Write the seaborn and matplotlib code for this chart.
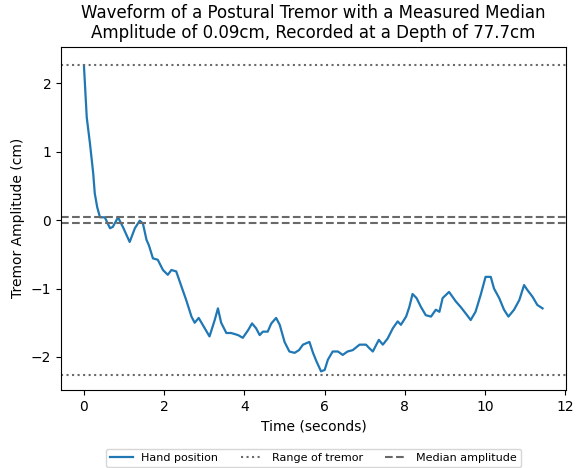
import numpy as np
import pandas as pd
import matplotlib
matplotlib.use("Agg")
import matplotlib.pyplot as plt
import seaborn as sns

# hand position trace (seconds, cm)
time_s = [0.00, 0.07, 0.15, 0.23, 0.27, 0.33, 0.40, 0.52, 0.65, 0.72, 0.85, 0.97,
          1.14, 1.27, 1.39, 1.47, 1.56, 1.62, 1.72, 1.84, 1.97, 2.09, 2.18, 2.30,
          2.43, 2.55, 2.68, 2.76, 2.86, 3.01, 3.13, 3.26, 3.34, 3.42, 3.55, 3.67,
          3.84, 3.96, 4.09, 4.19, 4.29, 4.38, 4.46, 4.58, 4.67, 4.79, 4.88, 5.00,
          5.12, 5.25, 5.36, 5.46, 5.62, 5.71, 5.80, 5.91, 6.00, 6.08, 6.20, 6.33,
          6.45, 6.57, 6.70, 6.87, 7.03, 7.11, 7.20, 7.35, 7.45, 7.57, 7.70, 7.82,
          7.90, 8.03, 8.11, 8.19, 8.29, 8.40, 8.52, 8.65, 8.77, 8.86, 8.94, 9.10,
          9.27, 9.39, 9.51, 9.64, 9.76, 9.89, 10.01, 10.14, 10.22, 10.35, 10.47,
          10.58, 10.72, 10.85, 10.97, 11.05, 11.18, 11.30, 11.43]
position_cm = [2.26, 1.50, 1.12, 0.69, 0.39, 0.19, 0.04, 0.04, -0.12, -0.10, 0.04, -0.10,
               -0.32, -0.12, -0.01, -0.05, -0.29, -0.37, -0.56, -0.58, -0.73, -0.80, -0.73, -0.75,
               -0.97, -1.17, -1.41, -1.50, -1.43, -1.58, -1.70, -1.46, -1.29, -1.50, -1.65, -1.65,
               -1.68, -1.72, -1.61, -1.51, -1.58, -1.68, -1.63, -1.63, -1.51, -1.43, -1.53, -1.78,
               -1.92, -1.94, -1.90, -1.82, -1.78, -1.94, -2.07, -2.21, -2.19, -2.04, -1.92, -1.92,
               -1.97, -1.92, -1.90, -1.82, -1.82, -1.87, -1.92, -1.75, -1.82, -1.73, -1.58, -1.48,
               -1.53, -1.41, -1.27, -1.08, -1.14, -1.27, -1.39, -1.41, -1.31, -1.34, -1.14, -1.05,
               -1.19, -1.27, -1.36, -1.46, -1.34, -1.09, -0.83, -0.83, -1.00, -1.14, -1.31,
               -1.41, -1.31, -1.17, -0.95, -1.02, -1.12, -1.24, -1.29]

tremor_range = 2.26
median_amp = 0.09

df = pd.DataFrame({"time": time_s, "pos": position_cm})

fig, ax = plt.subplots(figsize=(5.76, 4.68), dpi=100)
sns.lineplot(data=df, x="time", y="pos", ax=ax, color="#1f77b4",
             linewidth=1.6, label="Hand position")
ax.axhline(tremor_range, color="dimgray", linestyle=":", linewidth=1.5, label="Range of tremor")
ax.axhline(-tremor_range, color="dimgray", linestyle=":", linewidth=1.5)
ax.axhline(median_amp / 2, color="dimgray", linestyle="--", linewidth=1.5, label="Median amplitude")
ax.axhline(-median_amp / 2, color="dimgray", linestyle="--", linewidth=1.5)

ax.set_xlim(-0.57, 12.02)
ax.set_ylim(-2.48, 2.53)
ax.set_xticks([0, 2, 4, 6, 8, 10, 12])
ax.set_yticks([-2, -1, 0, 1, 2])
ax.set_xlabel("Time (seconds)")
ax.set_ylabel("Tremor Amplitude (cm)")
ax.set_title("Waveform of a Postural Tremor with a Measured Median\n"
             "Amplitude of 0.09cm, Recorded at a Depth of 77.7cm")
ax.legend(loc="upper center", bbox_to_anchor=(0.5, -0.155), ncol=3, fontsize=8)

plt.subplots_adjust(left=0.106, right=0.983, top=0.9, bottom=0.167)
plt.savefig("out.png", dpi=100)
